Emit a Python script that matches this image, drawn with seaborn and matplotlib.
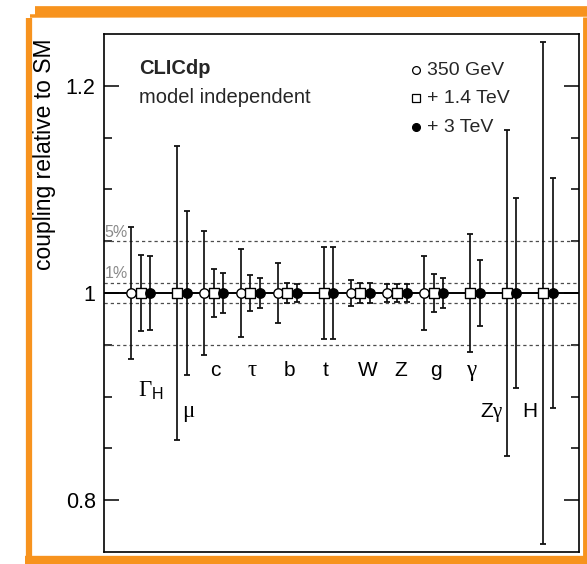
import numpy as np
import pandas as pd
import matplotlib
matplotlib.use("Agg")
import matplotlib.pyplot as plt
from matplotlib.lines import Line2D
from matplotlib.ticker import FixedLocator, FuncFormatter
import seaborn as sns

# Higgs couplings from the model-independent fit, relative to the SM
couplings = ["Gamma_H", "mu", "c", "tau", "b", "t", "W", "Z", "g", "gamma", "Zgamma", "H"]
coupling_labels = [r"$\Gamma_{\mathsf{H}}$", r"$\mathrm{\mu}$", "c", r"$\mathrm{\tau}$", "b", "t",
                   "W", "Z", "g", r"$\mathrm{\gamma}$", r"$\mathsf{Z}\mathrm{\gamma}$", "H"]
stages = ["350 GeV", "+ 1.4 TeV", "+ 3 TeV"]
central = [1.0, 1.0, 1.0, 1.0, 1.0, 1.0, 1.0, 1.0, 1.0, 1.0, 1.0, 1.0]
# relative uncertainties in percent (nan: not measured at that stage)
unc_350 = [6.4, np.nan, 6.0, 4.2, 2.9, np.nan, 1.3, 0.9, 3.6, np.nan, np.nan, np.nan]
unc_1400 = [3.7, 14.2, 2.3, 1.7, 1.0, 4.4, 1.0, 0.9, 1.8, 5.7, 15.7, 24.2]
unc_3000 = [3.6, 7.9, 1.9, 1.4, 0.9, 4.4, 1.0, 0.9, 1.4, 3.2, 9.2, 11.1]
band_levels = [1, 5]  # percent reference bands

sns.set_theme(style="ticks")
plt.rcParams["font.family"] = ["Liberation Sans", "DejaVu Sans"]
plt.rcParams["mathtext.fontset"] = "custom"
plt.rcParams["mathtext.rm"] = "Liberation Serif"
plt.rcParams["mathtext.it"] = "Liberation Serif:italic"
plt.rcParams["mathtext.sf"] = "Liberation Sans"

frames = []
for stage, unc, off in zip(stages, [unc_350, unc_1400, unc_3000], [-0.26, 0.0, 0.26]):
    frames.append(pd.DataFrame({
        "coupling": couplings,
        "pos": np.arange(len(couplings)) + off,
        "value": central,
        "err": np.array(unc) / 100.0,
        "stage": stage,
    }))
df = pd.concat(frames, ignore_index=True).dropna(subset=["err"])

W, H = 587, 564
fig = plt.figure(figsize=(W / 100, H / 100), dpi=100)
fig.patch.set_facecolor("white")
ax = fig.add_axes([104 / W, 1 - 552 / H, 475 / W, 518 / H])
ax.set_facecolor("white")

# reference bands and the SM line
for lvl in band_levels:
    for sgn in (1, -1):
        ax.axhline(1 + sgn * lvl / 100, color="#4d4d4d", lw=0.9, ls=(0, (2.6, 2.4)), zorder=1)
    ax.text(-0.985, 1 + lvl / 100 + 0.0012, f"{lvl}%", color="#8a8a8a", fontsize=11.5,
            ha="left", va="bottom", zorder=2)
ax.axhline(1.0, color="black", lw=1.4, zorder=1.5)

# error bars
ax.errorbar(df["pos"], df["value"], yerr=df["err"], fmt="none", ecolor="#111111",
            elinewidth=1.25, capsize=2.4, capthick=1.3, zorder=2)

# markers for the three energy stages
styles = {
    "350 GeV": dict(marker="o", color="white"),
    "+ 1.4 TeV": dict(marker="s", color="white"),
    "+ 3 TeV": dict(marker="o", color="black"),
}
for stage in stages:
    sub = df[df["stage"] == stage]
    sns.scatterplot(data=sub, x="pos", y="value", ax=ax, s=46, edgecolor="black",
                    linewidth=1.0, zorder=3, legend=False, **styles[stage])

# coupling names under each group
label_dx = [0.27, 0.30, 0.05, 0.04, 0.05, 0.05, 0.19, 0.10, 0.05, 0.05, -0.41, -0.36]
label_y = [0.900, 0.880, 0.920, 0.920, 0.920, 0.920, 0.920, 0.920, 0.920, 0.920, 0.880, 0.880]
label_size = [16.5, 16.5, 15, 16.5, 15, 15, 15, 15, 15, 16.5, 15, 15]
for i, (lab, dx, ly, fs) in enumerate(zip(coupling_labels, label_dx, label_y, label_size)):
    ax.text(i + dx, ly, lab, fontsize=fs, ha="center", va="baseline", color="black")

ax.set_xlim(-1.0, 11.97)
ax.set_ylim(0.75, 1.25)
ax.set_xticks([])
ax.set_xlabel("")
ax.yaxis.set_major_locator(FixedLocator([0.8, 1.0, 1.2]))
ax.yaxis.set_minor_locator(FixedLocator([0.85, 0.9, 0.95, 1.05, 1.1, 1.15]))
ax.yaxis.set_major_formatter(FuncFormatter(lambda v, p: f"{v:g}"))
ax.tick_params(axis="y", which="both", direction="in", left=True, right=True,
               labelsize=15.5, width=1.1, colors="black", pad=6)
ax.tick_params(axis="y", which="major", length=11)
ax.tick_params(axis="y", which="minor", length=5.8)
for sp in ax.spines.values():
    sp.set_visible(True)
    sp.set_linewidth(1.2)
    sp.set_color("black")

ax.set_ylabel("coupling relative to SM", fontsize=16.5, loc="top", color="black")
ax.yaxis.set_label_coords(-0.10, 0.992)

# headline and energy-stage key
ax.text(0.074, 0.934, "CLICdp", transform=ax.transAxes, fontsize=14.5, fontweight="bold",
        ha="left", va="center")
ax.text(0.074, 0.878, "model independent", transform=ax.transAxes, fontsize=14.5,
        ha="left", va="center")
key_y = [0.930, 0.876, 0.820]
for stage, ky in zip(stages, key_y):
    st = styles[stage]
    ax.add_line(Line2D([0.657], [ky], transform=ax.transAxes, ls="none", marker=st["marker"],
                       markersize=5.6, markerfacecolor=st["color"], markeredgecolor="black",
                       markeredgewidth=0.9))
    ax.text(0.680, ky, stage, transform=ax.transAxes, fontsize=14, ha="left", va="center")

# brush-stroke frame around the figure
orange = "#F7931E"
frame_strokes = [
    ([35 / W, 1.0], [1 - 11 / H, 1 - 11 / H], 7),
    ([30 / W, 1.0], [1 - 16 / H, 1 - 15 / H], 2.5),
    ([29 / W, 29 / W], [1 - 18 / H, 0.0], 4.5),
    ([25 / W, 1.0], [1 - 560 / H, 1 - 560 / H], 6),
    ([585 / W, 585 / W], [1 - 17 / H, 0.0], 3.5),
]
for xs, ys, lw in frame_strokes:
    fig.add_artist(Line2D(xs, ys, color=orange, lw=lw, solid_capstyle="butt"))

fig.savefig("out.png", dpi=100, facecolor="white")
